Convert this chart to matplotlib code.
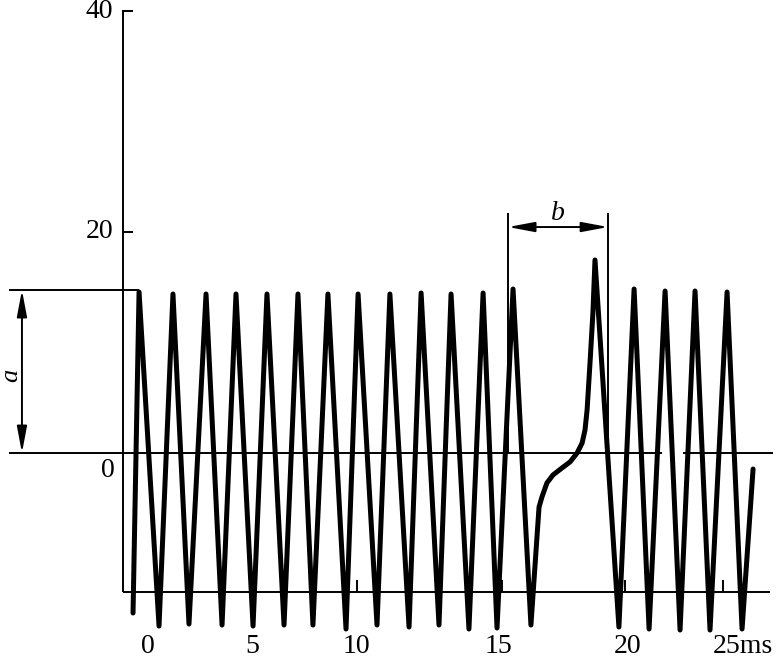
import matplotlib.pyplot as plt
from matplotlib.patches import FancyArrowPatch

plt.rcParams['font.family'] = ['Liberation Serif', 'DejaVu Serif']

# waveform vertices: time (ms) and value
wave_t = [-0.72, -0.43, 0.53, 1.20, 1.97, 2.79, 3.56, 4.23, 5.05, 5.72, 6.54,
          7.21, 7.93, 8.65, 9.52, 10.10, 11.01, 11.63, 12.55, 13.13, 13.99,
          14.57, 15.43, 16.11, 16.78, 17.55, 18.41,
          18.80, 18.94, 19.18, 19.47, 19.90, 20.29, 20.63, 20.87, 21.01,
          21.11, 21.25, 21.39, 21.49,
          22.64, 23.37, 24.09, 24.86, 25.58, 26.30, 27.02, 27.84, 28.56, 29.09]
wave_v = [-14.48, 14.57, -15.66, 14.39, -15.48, 14.39, -15.57, 14.39, -15.66,
          14.39, -15.57, 14.39, -15.57, 14.39, -15.93, 14.39, -15.57, 14.39,
          -15.75, 14.48, -15.57, 14.39, -15.93, 14.48, -15.84, 14.84, -15.57,
          -4.89, -3.98, -2.71, -1.99, -1.36, -0.81, 0.0, 0.90, 2.08,
          3.89, 8.14, 12.67, 17.47,
          -15.75, 14.84, -15.93, 14.66, -16.02, 14.66, -16.02, 14.57, -15.93, -1.45]

ytick_vals = [40, 20]
ytick_labels = ['40', '20']
xtick_pos = [0, 5, 10, 16.85, 23.05]
xtick_labels = ['0', '5', '10', '15', '20']
last_label = '25ms'
bottom_ticks = [10.05, 17.02, 22.93, 27.64]

PX_T = 20.8    # pixels per ms
PX_V = 11.05   # pixels per unit

fig = plt.figure(figsize=(7.77, 6.61), dpi=100)
ax = fig.add_axes([0, 0, 1, 1])
ax.set_xlim(-148 / PX_T, 629 / PX_T)
ax.set_ylim(-208 / PX_V, 453 / PX_V)
ax.axis('off')

k = dict(color='black', lw=1.4, solid_capstyle='butt')
fs = 20

# axes lines
ax.plot([-1.2, -1.2], [40.1, -12.58], **k)
for v, lab in zip(ytick_vals, ytick_labels):
    ax.plot([-1.2, -0.72], [v, v], **k)
    ax.text(-1.68, v, lab, ha='right', va='center', fontsize=fs)
ax.text(-1.92, -1.54, '0', ha='center', va='center', fontsize=fs)

ax.plot([-1.2, 29.9], [-12.58, -12.58], **k)
for t in bottom_ticks:
    ax.plot([t, t], [-12.58, -11.5], **k)
label_v = -17.5
for t, lab in zip(xtick_pos, xtick_labels):
    ax.text(t, label_v, lab, ha='center', va='center', fontsize=fs)
ax.text(27.16, label_v, last_label, ha='left', va='center', fontsize=fs)

# zero line (with the small gap)
ax.plot([-6.68, 24.71], [0, 0], **k)
ax.plot([25.72, 30.05], [0, 0], **k)

# waveform
ax.plot(wave_t, wave_v, color='black', lw=3.6,
        solid_joinstyle='round', solid_capstyle='round')

arrow_style = '<|-|>,head_length=1.6,head_width=0.3'

# dimension a
ax.plot([-6.68, -0.43], [14.75, 14.75], **k)
ax.add_patch(FancyArrowPatch((-6.06, 14.75), (-6.06, 0), arrowstyle=arrow_style,
                             mutation_scale=10, color='black', lw=1.4,
                             shrinkA=0, shrinkB=0))
ax.text(-6.59, 7.06, 'a', rotation=90, style='italic', ha='center', va='center',
        fontsize=19)

# dimension b
for t in (17.31, 22.12):
    ax.plot([t, t], [21.72, 0], **k)
ax.add_patch(FancyArrowPatch((17.31, 20.45), (22.12, 20.45), arrowstyle=arrow_style,
                             mutation_scale=10, color='black', lw=1.4,
                             shrinkA=0, shrinkB=0))
ax.text(19.71, 21.63, 'b', style='italic', ha='center', va='center', fontsize=20)

fig.savefig('out.png', dpi=100)
